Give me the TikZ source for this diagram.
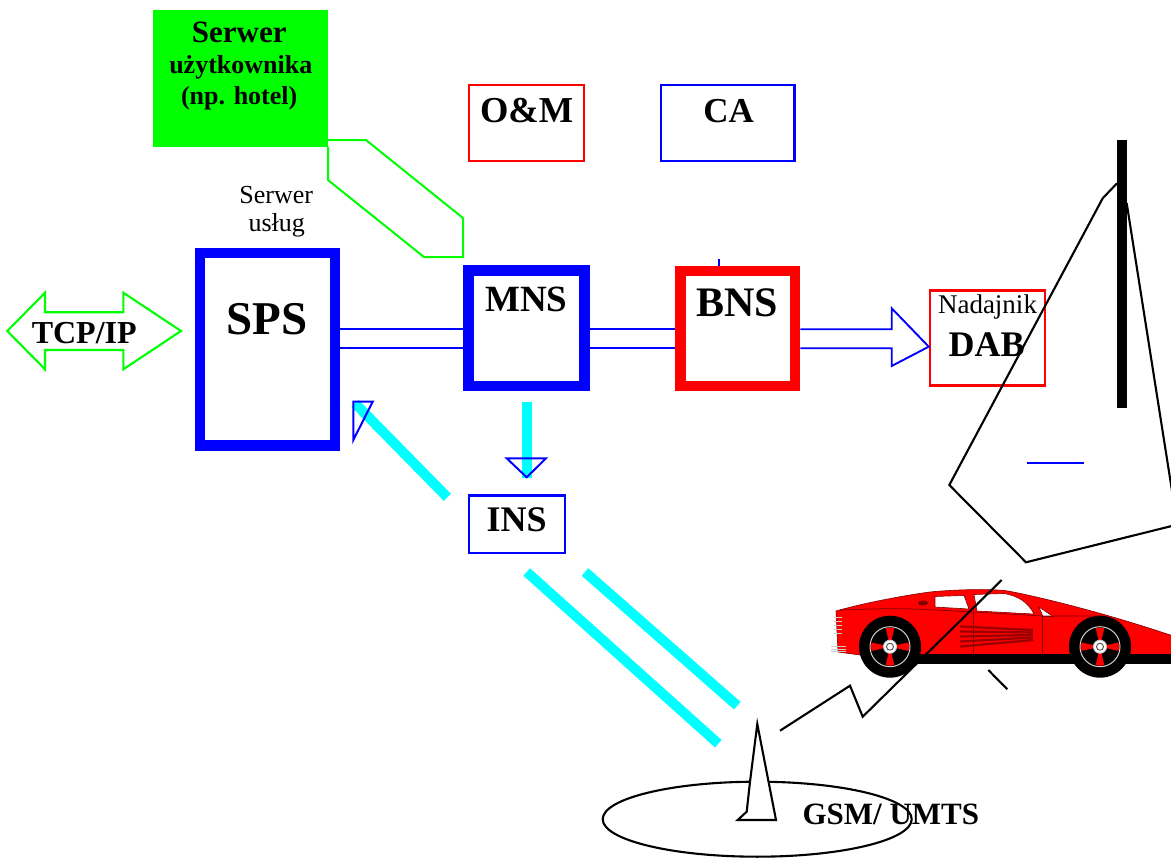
\documentclass[tikz,border=0pt]{standalone}
\usepackage{fontspec}
\setmainfont{Liberation Serif}
\usetikzlibrary{shapes.geometric}
\definecolor{pblue}{RGB}{0,0,255}
\definecolor{pred}{RGB}{255,0,0}
\definecolor{pgreen}{RGB}{0,255,0}
\definecolor{pcyan}{RGB}{0,255,255}
\definecolor{cardark}{RGB}{130,0,0}
\definecolor{rimgrey}{RGB}{205,205,205}
\newcommand{\fsz}[1]{\fontsize{#1}{#1}\selectfont}

\begin{document}
\begin{tikzpicture}[x=1pt,y=-1pt,
  thickbox/.style={draw, line width=10.5pt, inner sep=0pt, fill=white},
  thinbox/.style={draw, line width=2.1pt, inner sep=0pt},
  lbl/.style={anchor=base, inner sep=0pt},
  link/.style={pblue, line width=1.9pt, line join=miter},
  cyanbar/.style={pcyan, line width=10pt},
  head/.style={pblue, line width=2pt, line join=miter},
  wire/.style={black, line width=2.1pt, line join=miter},
  rimline/.style={rimgrey, line width=1pt}]

\useasboundingbox (0,0) rectangle (1171,858);
\fill[white] (0,0) rectangle (1171,858);

% ---- user server (green) and its callout outline
\node[fill=pgreen, inner sep=0pt, minimum width=175pt, minimum height=137pt] (hotel) at (240.5,78.5) {};
\draw[pgreen, line width=2pt, line join=miter] (hotel.south east) -- ++(0,33) -- ++(96,77) -- ++(39,0)
  -- ++(0,-39) -- ++(-97,-78) -- (328,140);
\node[lbl, font=\fsz{31}\bfseries] (hotelA) at (239.2,42.7) {Serwer};
\node[lbl, font=\fsz{26}\bfseries] (hotelB) at (240.8,74) {użytkownika};
\node[lbl, font=\fsz{26}\bfseries] (hotelC) at (239.2,105) {(np. hotel)};

% ---- service server caption
\node[lbl, font=\fsz{26}] (srvA) at (276.3,203.3) {Serwer};
\node[lbl, font=\fsz{26}] (srvB) at (276.7,231.7) {usług};

% ---- TCP/IP double arrow
\draw[pgreen, line width=2.1pt, line join=miter] (7.3,331) -- (45,292.7) -- (45,312.3) -- (123.3,312.3)
  -- (123.3,292.7) -- (181,331) -- (123.3,369.3) -- (123.3,350) -- (45,350) -- (45,369.3) -- cycle;
\node[lbl, font=\fsz{32}\bfseries] (tcp) at (84.2,343.3) {TCP/IP};

% ---- main network boxes
\node[thickbox, draw=pblue, minimum width=135pt, minimum height=192.7pt] (SPS) at (267.5,349.2) {};
\node[thickbox, draw=pblue, minimum width=115.6pt, minimum height=115.5pt] (MNS) at (526.5,328.5) {};
\node[thickbox, draw=pred, minimum width=114.7pt, minimum height=115pt] (BNS) at (737.7,328.5) {};
\node[lbl, font=\fsz{47}\bfseries] (SPSt) at (266.7,335) {SPS};
\node[lbl, font=\fsz{37}\bfseries] (MNSt) at (526.2,311.7) {MNS};
\node[lbl, font=\fsz{42}\bfseries] (BNSt) at (737.5,316.7) {BNS};
\draw[pblue, line width=1.8pt] (BNS.north -| 719.3,0) -- ++(0,-7);

\node[thinbox, draw=pred, minimum width=115pt, minimum height=75.7pt] (OM) at (526.3,123.3) {};
\node[thinbox, draw=pblue, minimum width=133.3pt, minimum height=75.7pt] (CA) at (727.8,123.3) {};
\node[lbl, font=\fsz{36.5}\bfseries] (OMt) at (526.7,122.7) {O\&M};
\node[lbl, font=\fsz{35}\bfseries] (CAt) at (728.7,122.7) {CA};

\node[thinbox, draw=pred, minimum width=115pt, minimum height=95pt] (DAB) at (987.3,338) {};
\node[lbl, font=\fsz{27}] (DABa) at (987.5,313.3) {Nadajnik};
\node[lbl, font=\fsz{36}\bfseries] (DABb) at (986.7,356.7) {DAB};

\node[thinbox, draw=pblue, minimum width=96.4pt, minimum height=57.3pt] (INS) at (517,524.2) {};
\node[lbl, font=\fsz{36}\bfseries] (INSt) at (516.7,531.7) {INS};

% ---- double-line links
\coordinate (l1) at (0,329.3);
\coordinate (l2) at (0,348.3);
\draw[link] (SPS.east |- l1) -- (MNS.west |- l1);
\draw[link] (SPS.east |- l2) -- (MNS.west |- l2);
\draw[link] (MNS.east |- l1) -- (BNS.west |- l1);
\draw[link] (MNS.east |- l2) -- (BNS.west |- l2);
\coordinate (hd) at (891.7,0);
\draw[link] (BNS.east |- l1) -- (hd |- l1) -- (891.7,308.3) -- (DAB.west |- 0,346.7) -- (891.7,366) -- (hd |- l2) -- (BNS.east |- l2);

% ---- cyan links with open heads
\coordinate (m1) at (526.7,402.3);
\coordinate (m2) at (526.7,478);
\draw[cyanbar] (m1) -- (m2);
\draw[head] (506.7,458.3) -- (546,458.3) -- (526.7,477.3) -- cycle;
\coordinate (i1) at (447.3,497.3);
\coordinate (s1) at (355,403.3);
\draw[cyanbar] (i1) -- (s1);
\draw[head] (353.3,401.7) -- (372.7,401.7) -- (353.3,440) -- cycle;
\coordinate (a1) at (526.7,572);
\coordinate (a2) at (718.3,743.7);
\coordinate (b1) at (585,572);
\coordinate (b2) at (737.3,705.7);
\draw[cyanbar] (a1) -- (a2);
\draw[cyanbar] (b1) -- (b2);

% ---- broadcast mast and its coverage outline
\begin{scope}
\clip (0,0) rectangle (1171,858);
\draw[wire] (1117,183.3) -- (1102.7,198.3) -- (949.3,485) -- (1026,562.3) -- (1260,504);
\draw[wire] (1126.7,203.3) -- (1190,605);
\end{scope}
\fill[black] (1116.7,140) rectangle (1127.3,408.3);
\draw[pblue, line width=1.9pt] (1026.7,463.3) -- (1084.3,463.3);

% ---- car
\begin{scope}
\clip (0,0) rectangle (1171,858);
\fill[red, draw=cardark, line width=0.6pt] (836,611) .. controls (860,604) and (900,596) .. (930,592)
  .. controls (960,589) and (995,589) .. (1008,591) .. controls (1040,597) and (1110,614) .. (1185,640)
  -- (1185,656) -- (920,656) -- (860,655) -- (838,652) -- cycle;
\fill[black] (905,654) rectangle (1185,664);
\foreach \cx in {890,1100} {
  \fill[black] (\cx,646.7) circle[radius=31];
  \draw[rimline, fill=black] (\cx,646.7) circle[radius=20];
  \foreach \a in {0,90,180,270}
    \fill[red] (\cx,646.7) -- ++(\a-13:19) arc[start angle=\a-13, end angle=\a+13, radius=19] -- cycle;
  \draw[rimline, fill=white] (\cx,646.7) circle[radius=6.5];
  \draw[black!70, line width=0.9pt] (\cx,646.7) circle[radius=3.5];
}
\fill[white, draw=cardark, line width=0.6pt] (935,596.5) -- (964,595.5) -- (969,609) -- (935,607) -- cycle;
\fill[white, draw=cardark, line width=0.6pt] (974,594.5) -- (1004,593.5) .. controls (1018,596) and (1028,602) .. (1034,614) -- (977,611) -- cycle;
\fill[white, draw=cardark, line width=0.6pt] (1039,607) -- (1053,616.5) -- (1043,616.5) -- cycle;
\foreach \ya/\yb in {626.5/630, 631.5/632.5, 636.5/635, 641.5/637.5, 646.5/640}
  \draw[cardark!80!red, line width=2.2pt] (960,\ya) -- (1033,\yb);
\draw[cardark, line width=0.7pt] (840,610) .. controls (900,608) .. (973,612) -- (1042.5,616) -- (1100,616);
\draw[cardark, line width=0.7pt] (973,612) -- (973,655);
\draw[cardark, line width=0.7pt] (1042.5,616) -- (1042.5,655);
\fill[cardark] (923,603) ellipse[x radius=5, y radius=2.5];
\foreach \gy in {617,621,625,629,633} \draw[rimline] (834,\gy) -- (842,\gy);
\foreach \gy in {646.5,649,651.5} \draw[rimline] (831,\gy) -- (846,\gy);
\end{scope}

% ---- radio path to the car
\draw[wire] (780,730.7) -- (850,685.7) -- (862.7,716.7) -- (1001.7,580);
\draw[wire] (988.3,670) -- (1007.3,689.3);

% ---- GSM/UMTS cell and antenna
\node[draw, ellipse, line width=2.1pt, inner sep=0pt, minimum width=309pt, minimum height=75pt] (cell) at (757.2,819.2) {};
\filldraw[fill=white, draw=black, line width=2.1pt, line join=miter] (757.3,724) -- (776,820) -- (737.7,820)
  -- (746.7,811.7) -- (750,781.7) -- cycle;
\node[lbl, font=\fsz{31}\bfseries] (gsm) at (890.8,824) {GSM/ UMTS};
\end{tikzpicture}
\end{document}
